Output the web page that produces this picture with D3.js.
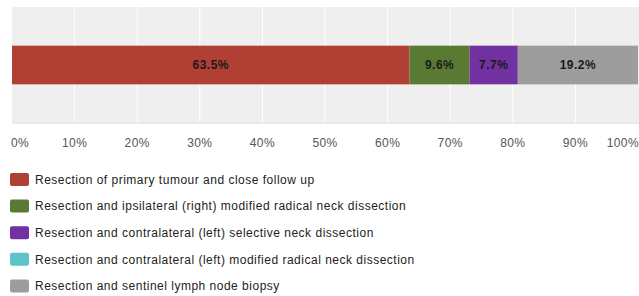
<!DOCTYPE html>
<html>
<head>
<meta charset="utf-8">
<script src="https://cdn.jsdelivr.net/npm/d3@7"></script>
<style>
  body { margin: 0; background: #fff; }
  svg { display: block; font-family: "Liberation Sans", Arial, sans-serif; }
</style>
</head>
<body>
<div id="chart"></div>
<script>
// categories, shares (%) and colours
const categories = [
  'Resection of primary tumour and close follow up',
  'Resection and ipsilateral (right) modified radical neck dissection',
  'Resection and contralateral (left) selective neck dissection',
  'Resection and contralateral (left) modified radical neck dissection',
  'Resection and sentinel lymph node biopsy'
]
const values = [63.5, 9.6, 7.7, 0, 19.2]
const colors = ['#b03f34', '#5a7a34', '#7131a1', '#5cc3c9', '#9d9d9d']
const ticks = [0, 10, 20, 30, 40, 50, 60, 70, 80, 90, 100]

const width = 639
const height = 296
const plot = { left: 12, right: 638, top: 7, bottom: 123 }

const svg = d3.select('#chart').append('svg')
  .attr('width', width)
  .attr('height', height)

const x = d3.scaleLinear().domain([0, 100]).range([plot.left, plot.right])
const y = d3.scaleBand().domain(['all']).range([plot.top, plot.bottom]).padding(0.5)

// plot background
svg.append('rect')
  .attr('x', plot.left)
  .attr('y', plot.top)
  .attr('width', plot.right - plot.left + 2)
  .attr('height', plot.bottom - plot.top)
  .attr('fill', '#efefef')

// vertical gridlines
svg.append('g')
  .selectAll('line')
  .data(ticks.slice(1, -1))
  .enter().append('line')
  .attr('x1', d => x(d))
  .attr('x2', d => x(d))
  .attr('y1', plot.top)
  .attr('y2', plot.bottom)
  .attr('stroke', '#fff')
  .attr('stroke-width', 1)

svg.append('line')
  .attr('x1', plot.left)
  .attr('x2', width)
  .attr('y1', plot.bottom)
  .attr('y2', plot.bottom)
  .attr('stroke', '#dcdcdc')

// stacked segments
const segs = []
let acc = 0
values.forEach((v, i) => {
  segs.push({ i, v, x0: acc, x1: acc + v })
  acc += v
})

svg.append('g')
  .selectAll('rect')
  .data(segs.filter(d => d.v > 0))
  .enter().append('rect')
  .attr('x', d => x(d.x0))
  .attr('y', y('all'))
  .attr('width', d => x(d.x1) - x(d.x0))
  .attr('height', y.bandwidth())
  .attr('fill', d => colors[d.i])

svg.append('g')
  .selectAll('text')
  .data(segs.filter(d => d.v > 0))
  .enter().append('text')
  .attr('x', d => (x(d.x0) + x(d.x1)) / 2)
  .attr('y', y('all') + y.bandwidth() / 2)
  .attr('dy', '0.35em')
  .attr('text-anchor', 'middle')
  .attr('font-size', 12)
  .attr('letter-spacing', 0.5)
  .attr('font-weight', 'bold')
  .attr('fill', '#1a1a1a')
  .text(d => d.v.toFixed(1) + '%')

// x axis labels
svg.append('g')
  .selectAll('text')
  .data(ticks)
  .enter().append('text')
  .attr('x', d => d === 0 ? plot.left - 1 : d === 100 ? width : x(d))
  .attr('y', 143)
  .attr('dy', '0.35em')
  .attr('text-anchor', d => d === 0 ? 'start' : d === 100 ? 'end' : 'middle')
  .attr('font-size', 12)
  .attr('letter-spacing', 0.4)
  .attr('fill', '#555')
  .text(d => d + '%')

// legend
const legend = svg.append('g')
  .selectAll('g')
  .data(categories)
  .enter().append('g')
  .attr('transform', (d, i) => 'translate(10,' + (173 + i * 26.6) + ')')

legend.append('rect')
  .attr('width', 19)
  .attr('height', 13)
  .attr('rx', 2)
  .attr('fill', (d, i) => colors[i])

legend.append('text')
  .attr('x', 25)
  .attr('y', 6.5)
  .attr('dy', '0.35em')
  .attr('font-size', 12)
  .attr('letter-spacing', 0.5)
  .attr('fill', '#222')
  .text(d => d)
</script>
</body>
</html>
